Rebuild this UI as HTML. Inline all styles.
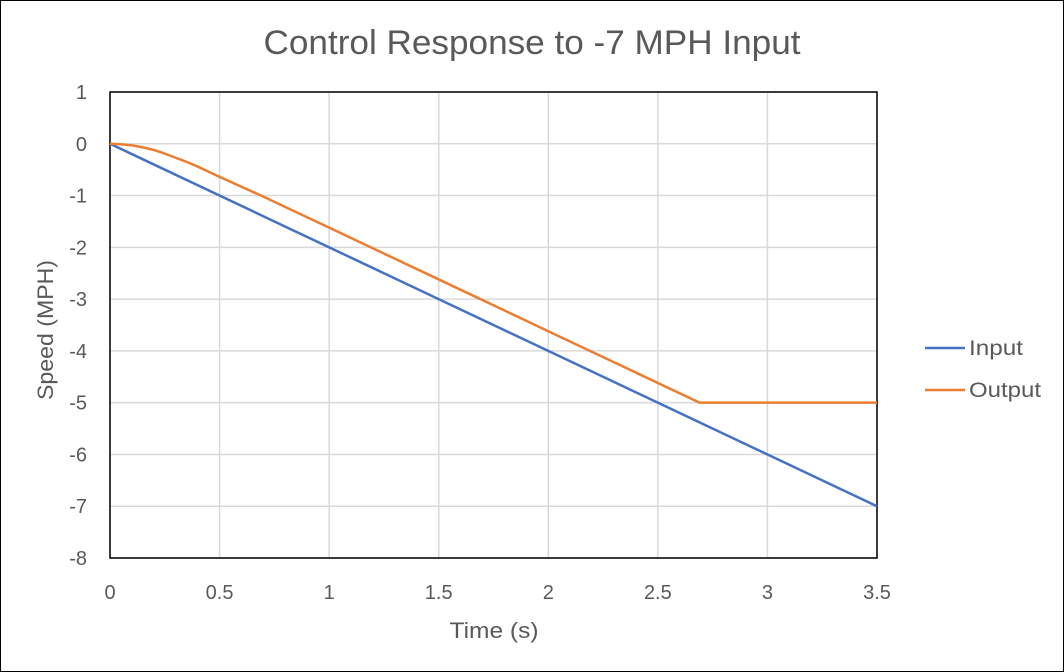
<!DOCTYPE html>
<html><head><meta charset="utf-8"><style>
body{margin:0;background:#fff}
svg{display:block;font-family:"Liberation Sans",sans-serif}
</style></head><body>
<svg width="1064" height="672">
<rect x="0.5" y="0.5" width="1063" height="671" fill="#fff" stroke="#000"/>
<text x="532" y="54" text-anchor="middle" font-size="34" fill="#595959" textLength="537" lengthAdjust="spacingAndGlyphs">Control Response to -7 MPH Input</text>
<g id="grid"></g>
<rect x="110" y="92" width="767" height="466" fill="none" stroke="#000" stroke-width="1.5"/>
<g id="series"></g>
<g id="ticks"></g>
<text x="494" y="638" text-anchor="middle" font-size="22" fill="#595959" textLength="89" lengthAdjust="spacingAndGlyphs">Time (s)</text>
<text transform="translate(53,330) rotate(-90)" text-anchor="middle" font-size="22" fill="#595959" textLength="140" lengthAdjust="spacingAndGlyphs">Speed (MPH)</text>
<g>
<line x1="925" y1="348" x2="965" y2="348" stroke="#4472C4" stroke-width="2.5"/>
<text x="969" y="355" font-size="21" fill="#595959" textLength="54" lengthAdjust="spacingAndGlyphs">Input</text>
<line x1="925" y1="390" x2="965" y2="390" stroke="#ED7D31" stroke-width="2.5"/>
<text x="969" y="397" font-size="21" fill="#595959" textLength="72" lengthAdjust="spacingAndGlyphs">Output</text>
</g>
</svg>
<script>
const xTicks=[0,0.5,1,1.5,2,2.5,3,3.5];
const xTickLabels=["0","0.5","1","1.5","2","2.5","3","3.5"];
const yTicks=[1,0,-1,-2,-3,-4,-5,-6,-7,-8];
const inputT=[0,3.5];
const inputV=[0,-7];
const outputT=[0,0.05,0.1,0.15,0.2,0.25,0.3,0.35,0.4,0.45,0.5,0.6,0.7,0.8,1,1.5,2,2.5,2.69,3,3.5];
const outputV=[0,-0.01,-0.03,-0.07,-0.12,-0.19,-0.27,-0.35,-0.44,-0.54,-0.64,-0.83,-1.02,-1.22,-1.62,-2.62,-3.62,-4.62,-5,-5,-5];
const NS="http://www.w3.org/2000/svg";
const X=t=>110+t/3.5*767;
const Y=v=>92+(1-v)/9*466;
const grid=document.getElementById('grid'),ticks=document.getElementById('ticks'),series=document.getElementById('series');
function mk(tag,a,p){const e=document.createElementNS(NS,tag);for(const k in a)e.setAttribute(k,a[k]);p.appendChild(e);return e;}
xTicks.forEach((t,i)=>{
 const l=mk('line',{x1:X(t),x2:X(t),y1:92,y2:558,stroke:'#d9d9d9','stroke-width':1.5},grid);
 
 
 const tx=mk('text',{x:X(t),y:599,'text-anchor':'middle','font-size':20,fill:'#595959'},ticks);
 tx.textContent=xTickLabels[i];
 
 
});
yTicks.forEach(v=>{
 const l=mk('line',{x1:110,x2:877,y1:Y(v),y2:Y(v),stroke:'#d9d9d9','stroke-width':1.5},grid);
 
 
 const tx=mk('text',{x:87,y:Y(v)+7,'text-anchor':'end','font-size':20,fill:'#595959'},ticks);
 tx.textContent=String(v);
 
 
});
function line(ts,vs,c,name){
 const p=mk('polyline',{points:ts.map((t,i)=>X(t)+','+Y(vs[i])).join(' '),fill:'none',stroke:c,'stroke-width':2.5,'stroke-linejoin':'round'},series);
 
 
}
line(inputT,inputV,'#4472C4','input-line');
line(outputT,outputV,'#ED7D31','output-line');
</script>
</body></html>
